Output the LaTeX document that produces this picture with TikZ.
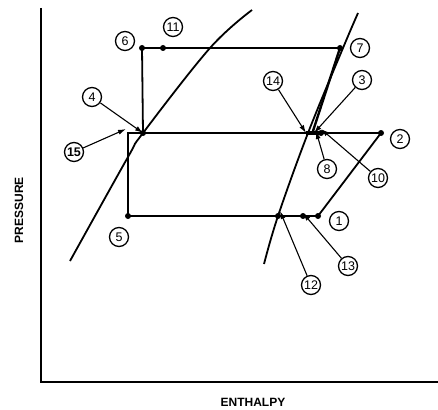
\documentclass[tikz,border=0pt]{standalone}
\usepackage{fontspec}
\setmainfont{Liberation Sans}
\usetikzlibrary{arrows.meta}
\begin{document}
\begin{tikzpicture}[x=1pt,y=-1pt,
  lbl/.style={draw,circle,line width=1.3pt,minimum size=19pt,inner sep=0pt,font=\fontsize{12.5}{13}\selectfont},
  ptr/.style={line width=1.1pt,-{Latex[length=8pt,width=5pt]}},
  cyc/.style={line width=1.8pt},
  curve/.style={line width=1.8pt},
  axis/.style={line width=2.8pt},
  axlbl/.style={font=\fontsize{12}{13}\selectfont\bfseries}]
\useasboundingbox (0,0) rectangle (438,409);
% axes
\coordinate (top) at (41,8);
\coordinate (orig) at (41,382);
\coordinate (right) at (438,382);
\draw[axis] (top) -- (orig) -- (right);
\node[axlbl] (xl) at (253,402) {ENTHALPY};
\node[axlbl,rotate=90] (yl) at (19,210) {PRESSURE};
% state points
\coordinate (p6) at (142,48);
\coordinate (p11) at (163,48);
\coordinate (p7) at (340,48);
\coordinate (p4) at (143,133);
\coordinate (p15) at (128,133);
\coordinate (p5) at (128,216);
\coordinate (p2) at (381,133);
\coordinate (p1) at (318,216);
\coordinate (p12) at (278,216);
\coordinate (p13) at (303,216);
\coordinate (p14) at (306,133);
\coordinate (p3) at (313,131);
\coordinate (p8) at (316,134);
\coordinate (p10) at (321,133);
% saturation curves
\draw[curve] plot[smooth,tension=0.6] coordinates {(70,261) (128,157) (p4) (210,48) (252,10)};
\draw[curve] plot[smooth,tension=0.6] coordinates {(264,264) (p12) (308,133) (343,48) (358,13)};
% cycle
\draw[cyc] (p5) -- (p15) -- (p2) -- (p1) -- cycle;
\draw[cyc] (p4) -- (p6) -- (p7);
\draw[line width=2.4pt] (p7) -- (p3);
\draw[line width=3.6pt] (p14) -- (p10);
% dots
\foreach \p in {p6,p11,p7,p4,p5,p2,p1,p12,p13,p10}
  \fill (\p) circle (3);
% labels
\node[lbl] (l6) at (125,41) {6};
\node[lbl] (l11) at (173,27) {11};
\node[lbl] (l4) at (92,97) {4};
\node[lbl] (l15) at (74,152) {\textbf{15}};
\node[lbl] (l5) at (119,237) {5};
\node[lbl] (l14) at (273,81) {14};
\node[lbl] (l7) at (360,48) {7};
\node[lbl] (l3) at (362,80) {3};
\node[lbl] (l2) at (400,139) {2};
\node[lbl] (l8) at (327,169) {8};
\node[lbl] (l10) at (378,178) {10};
\node[lbl] (l1) at (339,221) {1};
\node[lbl] (l13) at (348,266) {13};
\node[lbl] (l12) at (311,285) {12};
% pointers
\draw[ptr] (l4) -- (p4);
\draw[ptr] (l15) -- ([xshift=-2pt,yshift=4pt]p15);
\draw[ptr] (l14) -- (p14);
\draw[ptr] (l3) -- ([xshift=1pt,yshift=-2pt]p3);
\draw[ptr] (l8) -- ([yshift=3pt]p8);
\draw[ptr] (l10) -- ([yshift=4pt]p10);
\draw[ptr] (l13) -- ([yshift=3pt]p13);
\draw[ptr] (l12) -- ([xshift=2pt,yshift=5pt]p12);
\end{tikzpicture}
\end{document}
